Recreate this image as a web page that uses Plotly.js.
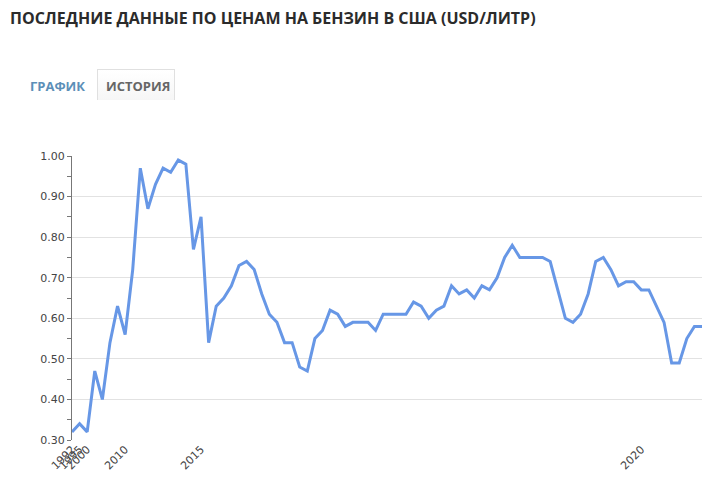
<!DOCTYPE html>
<html>
<head>
<meta charset="utf-8">
<script src="https://cdn.plot.ly/plotly-3.0.1.min.js"></script>
<style>
  html, body { margin: 0; padding: 0; background: #fff; }
  body { width: 726px; height: 501px; position: relative; overflow: hidden; font-family: "Open Sans", sans-serif; }
  #title { position: absolute; left: 10px; top: 7px; font-size: 16px; font-weight: 700; color: #2b2b2b; white-space: nowrap; }
  #tab1 { position: absolute; left: 30px; top: 77px; font-size: 13px; font-weight: 700; color: #5c8fb8; white-space: nowrap; }
  #tab2 { position: absolute; left: 97px; top: 69px; width: 78px; height: 31px; border: 1px solid #e0e0e0; border-bottom: none;
          background: linear-gradient(#ffffff, #f6f6f6); box-sizing: border-box; }
  #tab2 span { position: absolute; left: 8px; top: 7px; font-size: 13px; font-weight: 700; color: #666; white-space: nowrap; }
  #chart { position: absolute; left: 0; top: 0; width: 726px; height: 501px; }
</style>
</head>
<body>
<div id="chart"></div>
<div id="title">ПОСЛЕДНИЕ ДАННЫЕ ПО ЦЕНАМ НА БЕНЗИН В США (USD/ЛИТР)</div>
<div id="tab1">ГРАФИК</div>
<div id="tab2"><span>ИСТОРИЯ</span></div>
<script>
const prices = [
  0.32, 0.34, 0.32, 0.47, 0.40, 0.54, 0.63, 0.56, 0.72, 0.97,
  0.87, 0.93, 0.97, 0.96, 0.99, 0.98, 0.77, 0.85, 0.54, 0.63,
  0.65, 0.68, 0.73, 0.74, 0.72, 0.66, 0.61, 0.59, 0.54, 0.54,
  0.48, 0.47, 0.55, 0.57, 0.62, 0.61, 0.58, 0.59, 0.59, 0.59,
  0.57, 0.61, 0.61, 0.61, 0.61, 0.64, 0.63, 0.60, 0.62, 0.63,
  0.68, 0.66, 0.67, 0.65, 0.68, 0.67, 0.70, 0.75, 0.78, 0.75,
  0.75, 0.75, 0.75, 0.74, 0.67, 0.60, 0.59, 0.61, 0.66, 0.74,
  0.75, 0.72, 0.68, 0.69, 0.69, 0.67, 0.67, 0.63, 0.59, 0.49,
  0.49, 0.55, 0.58, 0.58
];
const tickIndex = [0, 1, 2, 7, 17, 75];
const tickLabels = ["1992", "1995", "2000", "2010", "2015", "2020"];
const yTicks = [0.30, 0.40, 0.50, 0.60, 0.70, 0.80, 0.90, 1.00];

const xs = prices.map((_, i) => i);

Plotly.newPlot("chart", [{
  type: "scatter",
  mode: "lines",
  x: xs,
  y: prices,
  line: { color: "#6797e6", width: 3 },
  hoverinfo: "y"
}], {
  width: 726,
  height: 501,
  margin: { l: 72, r: 24, t: 156, b: 61 },
  paper_bgcolor: "rgba(0,0,0,0)",
  plot_bgcolor: "rgba(0,0,0,0)",
  showlegend: false,
  font: { family: "DejaVu Sans, sans-serif", size: 11, color: "#444" },
  xaxis: {
    range: [0, prices.length - 1],
    tickmode: "array",
    tickvals: tickIndex,
    ticktext: tickLabels,
    tickangle: -45,
    showgrid: false,
    zeroline: false,
    showline: false,
    ticks: "",
    tickfont: { family: "DejaVu Sans, sans-serif", size: 11, color: "#444" }
  },
  yaxis: {
    range: [0.30, 1.00],
    tickmode: "array",
    tickvals: yTicks,
    ticktext: yTicks.map(v => v.toFixed(2)),
    showgrid: true,
    gridcolor: "#e2e2e2",
    gridwidth: 1,
    zeroline: false,
    showline: true,
    linecolor: "#777",
    linewidth: 1,
    ticks: "outside",
    ticklen: 4,
    tickcolor: "#777",
    minor: { dtick: 0.05, tick0: 0.30, ticks: "outside", ticklen: 4, tickcolor: "#777", showgrid: false },
    tickfont: { family: "DejaVu Sans, sans-serif", size: 11, color: "#444" }
  }
}, { displayModeBar: false, staticPlot: true });
</script>
</body>
</html>
